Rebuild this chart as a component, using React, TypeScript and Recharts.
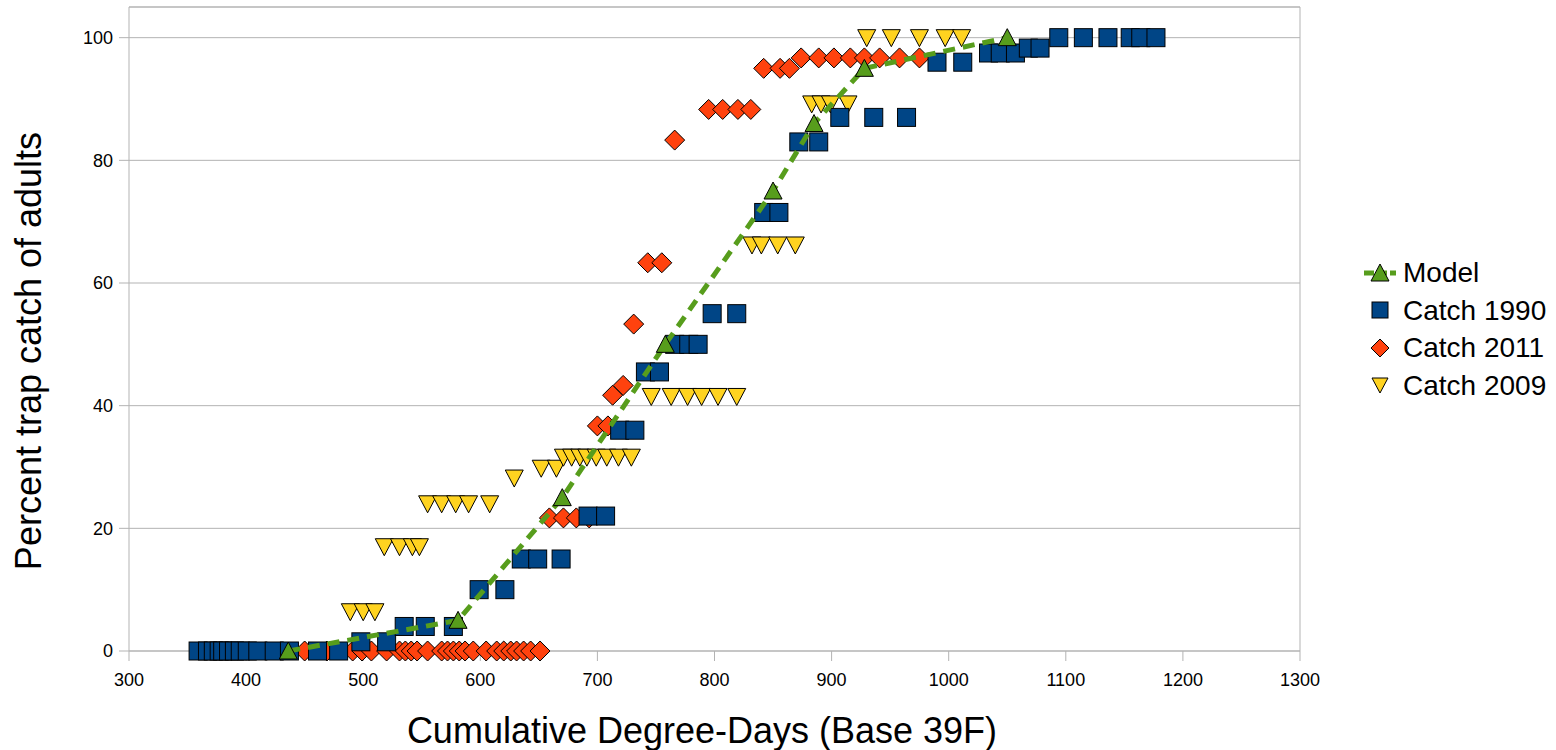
import { ScatterChart, Scatter, XAxis, YAxis, CartesianGrid, ReferenceLine, Legend, Label } from 'recharts'

const FONT = '"Liberation Sans", Arial, sans-serif'

const xTicks = [300, 400, 500, 600, 700, 800, 900, 1000, 1100, 1200, 1300]
const yTicks = [0, 20, 40, 60, 80, 100]

const modelX = [436, 581, 670, 758, 850, 885, 928, 1050]
const modelY = [0, 5, 25, 50, 75, 86, 95, 100]

const catch1990X = [359, 367, 372, 377, 380, 385, 390, 395, 401, 410, 424, 437, 461, 479, 498, 520, 535, 553, 577, 599, 621, 635, 649, 669, 692, 707, 719, 732, 741, 753, 766, 778, 786, 798, 819, 842, 855, 872, 889, 907, 936, 964, 990, 1012, 1034, 1044, 1057, 1068, 1078, 1094, 1115, 1136, 1155, 1164, 1177]
const catch1990Y = [0, 0, 0, 0, 0, 0, 0, 0, 0, 0, 0, 0, 0, 0, 1.5, 1.5, 4, 4, 4, 10, 10, 15, 15, 15, 22, 22, 36, 36, 45.5, 45.5, 50, 50, 50, 55, 55, 71.5, 71.5, 83, 83, 87, 87, 87, 96, 96, 97.5, 97.5, 97.5, 98.3, 98.3, 100, 100, 100, 100, 100, 100]

const catch2011X = [450, 469, 491, 499, 507, 520, 531, 536, 541, 546, 555, 567, 572, 577, 582, 587, 594, 605, 614, 620, 626, 631, 637, 643, 651, 659, 671, 682, 693, 700, 709, 713, 722, 731, 743, 755, 766, 795, 807, 820, 831, 842, 856, 864, 874, 889, 902, 916, 928, 941, 958, 975]
const catch2011Y = [0, 0, 0, 0, 0, 0, 0, 0, 0, 0, 0, 0, 0, 0, 0, 0, 0, 0, 0, 0, 0, 0, 0, 0, 0, 21.7, 21.7, 21.7, 21.7, 36.7, 36.7, 41.7, 43.3, 53.3, 63.3, 63.3, 83.3, 88.3, 88.3, 88.3, 88.3, 95, 95, 95, 96.7, 96.7, 96.7, 96.7, 96.7, 96.7, 96.7, 96.7]

const catch2009X = [432, 470, 489, 500, 510, 518, 531, 542, 548, 555, 567, 579, 590, 608, 629, 652, 665, 671, 678, 685, 691, 699, 708, 718, 729, 746, 763, 777, 789, 803, 819, 832, 840, 854, 869, 883, 891, 899, 914, 930, 951, 975, 997, 1011]
const catch2009Y = [0, 0, 6.4, 6.4, 6.4, 17, 17, 17, 17, 24, 24, 24, 24, 24, 28.2, 29.8, 29.8, 31.6, 31.6, 31.6, 31.6, 31.6, 31.6, 31.6, 31.6, 41.5, 41.5, 41.5, 41.5, 41.5, 41.5, 66.2, 66.2, 66.2, 66.2, 89.2, 89.2, 89.2, 89.2, 100, 100, 100, 100, 100]

const zip = (xs: number[], ys: number[]) => xs.map((x, i) => ({ x, y: ys[i] }))

const GREEN = '#579d1c'
const BLUE = '#004586'
const RED = '#ff420e'
const YELLOW = '#ffd320'

const upTri = (cx: number, cy: number) => `${cx},${cy - 9} ${cx + 9},${cy + 8} ${cx - 9},${cy + 8}`
const downTri = (cx: number, cy: number) => `${cx - 9},${cy - 8} ${cx + 9},${cy - 8} ${cx},${cy + 9}`
const diamond = (cx: number, cy: number) => `${cx},${cy - 10} ${cx + 10},${cy} ${cx},${cy + 10} ${cx - 10},${cy}`

const ModelShape = (p: any) => <polygon points={upTri(p.cx, p.cy)} fill={GREEN} stroke="#000" strokeWidth={1} />
const SquareShape = (p: any) => <rect x={p.cx - 9} y={p.cy - 9} width={18} height={18} fill={BLUE} stroke="#000" strokeWidth={1} />
const DiamondShape = (p: any) => <polygon points={diamond(p.cx, p.cy)} fill={RED} stroke="#000" strokeWidth={1} />
const DownShape = (p: any) => <polygon points={downTri(p.cx, p.cy)} fill={YELLOW} stroke="#000" strokeWidth={1} />

const legendNames = ['Model', 'Catch 1990', 'Catch 2011', 'Catch 2009']

function LegendIcon({ i }: { i: number }) {
  return (
    <svg width={40} height={24} style={{ display: 'block' }}>
      {i === 0 && <line x1={2} y1={12} x2={34} y2={12} stroke={GREEN} strokeWidth={5} strokeDasharray="10 3" />}
      {i === 0 && <polygon points={upTri(18, 12)} fill={GREEN} stroke="#000" strokeWidth={1} />}
      {i === 1 && <rect x={10} y={4} width={16} height={16} fill={BLUE} stroke="#000" strokeWidth={1} />}
      {i === 2 && <polygon points={`18,3 27,12 18,21 9,12`} fill={RED} stroke="#000" strokeWidth={1} />}
      {i === 3 && <polygon points={`10,5 26,5 18,20`} fill={YELLOW} stroke="#000" strokeWidth={1} />}
    </svg>
  )
}

function renderLegend() {
  return (
    <div style={{ fontFamily: FONT, fontSize: 28, color: '#000' }}>
      {legendNames.map((name, i) => (
        <div key={name} style={{ display: 'flex', alignItems: 'center', height: 37.5 }}>
          <LegendIcon i={i} />
          <span style={{ marginLeft: 1, lineHeight: '37.5px' }}>{name}</span>
        </div>
      ))}
    </div>
  )
}

export default function App() {
  return (
    <div style={{ position: 'absolute', left: 0, top: 0, background: '#fff' }}>
      <ScatterChart width={1556} height={750} margin={{ top: 7, right: 256, bottom: 0, left: 0 }}>
        <CartesianGrid vertical={false} stroke="#b3b3b3" />
        <XAxis
          type="number"
          dataKey="x"
          domain={[300, 1300]}
          ticks={xTicks}
          height={99}
          stroke="#b3b3b3"
          tickSize={10}
          tickMargin={12}
          tick={{ fill: '#000', fontSize: 18, fontFamily: FONT }}
        >
          <Label
            content={() => (
              <text x={702} y={743} textAnchor="middle" fontSize={36} fontFamily={FONT} fill="#000">
                Cumulative Degree-Days (Base 39F)
              </text>
            )}
          />
        </XAxis>
        <YAxis
          type="number"
          dataKey="y"
          domain={[0, 105]}
          ticks={yTicks}
          width={129}
          stroke="#b3b3b3"
          tickSize={10}
          tickMargin={6}
          tick={{ fill: '#000', fontSize: 18, fontFamily: FONT }}
        >
          <Label
            content={() => (
              <text x={41} y={351} transform="rotate(-90 41 351)" textAnchor="middle" fontSize={36} fontFamily={FONT} fill="#000">
                Percent trap catch of adults
              </text>
            )}
          />
        </YAxis>
        <ReferenceLine y={105} stroke="#b3b3b3" />
        <ReferenceLine x={1300} stroke="#b3b3b3" />
        <Legend
          layout="vertical"
          align="center"
          verticalAlign="middle"
          content={renderLegend}
          wrapperStyle={{ left: 1362, top: 254, width: 194 }}
        />
        <Scatter name="Catch 2009" data={zip(catch2009X, catch2009Y)} shape={DownShape} isAnimationActive={false} />
        <Scatter name="Catch 2011" data={zip(catch2011X, catch2011Y)} shape={DiamondShape} isAnimationActive={false} />
        <Scatter name="Catch 1990" data={zip(catch1990X, catch1990Y)} shape={SquareShape} isAnimationActive={false} />
        <Scatter
          name="Model"
          data={zip(modelX, modelY)}
          shape={ModelShape}
          line={{ stroke: GREEN, strokeWidth: 5, strokeDasharray: '12 8' }}
          isAnimationActive={false}
        />
      </ScatterChart>
    </div>
  )
}
